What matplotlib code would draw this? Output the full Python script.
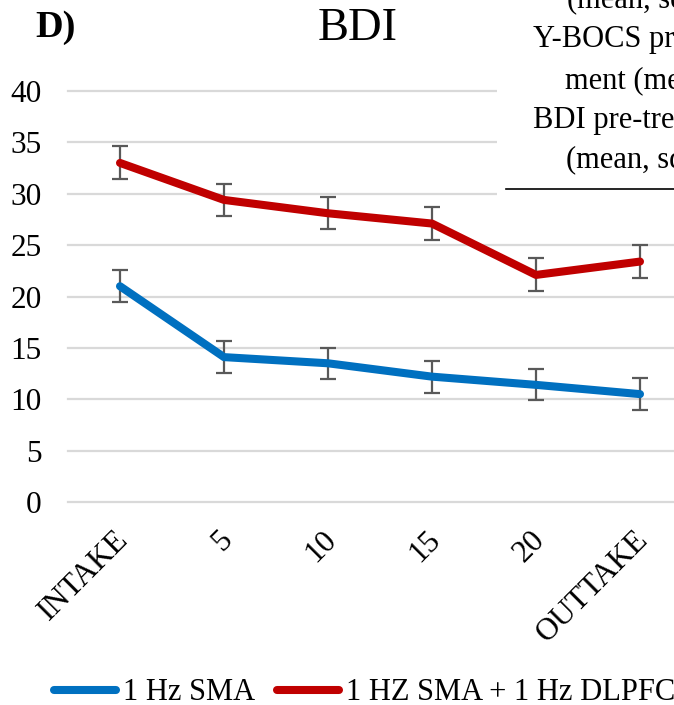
import matplotlib
matplotlib.use("Agg")
import matplotlib.pyplot as plt
import matplotlib.transforms as mtransforms
from matplotlib.patches import Rectangle
from matplotlib.lines import Line2D

# ---- data ----
categories = ["INTAKE", "5", "10", "15", "20", "OUTTAKE"]
sma_mean = [21.0, 14.1, 13.5, 12.2, 11.4, 10.5]
sma_err = [1.55, 1.55, 1.5, 1.55, 1.5, 1.55]
combo_mean = [33.0, 29.4, 28.1, 27.1, 22.1, 23.4]
combo_err = [1.6, 1.55, 1.55, 1.6, 1.6, 1.6]
series_names = ["1 Hz SMA", "1 HZ SMA + 1 Hz DLPFC"]
y_ticks = [0, 5, 10, 15, 20, 25, 30, 35, 40]
table_lines = ["(mean, sd)", "Y-BOCS pre-treat-", "ment (mean, sd)",
               "BDI pre-treatment", "(mean, sd)"]

W, H = 674, 705
plt.rcParams["font.family"] = ["Liberation Serif", "DejaVu Serif"]

fig = plt.figure(figsize=(W / 100, H / 100), dpi=100)
fig.patch.set_facecolor("white")

# axes spans past the right edge of the figure
ax = fig.add_axes([68 / W, 1 - 502 / H, (692 - 68) / W, (502 - 91) / H])
x = list(range(len(categories)))

blue = "#0070C0"
red = "#C00000"
err_col = "#595959"

for mean, err in ((sma_mean, sma_err), (combo_mean, combo_err)):
    ax.errorbar(x, mean, yerr=err, fmt="none", ecolor=err_col,
                elinewidth=1.6, capsize=5.5, capthick=1.6, zorder=3)

l1, = ax.plot(x, sma_mean, color=blue, lw=5.8, solid_capstyle="round",
              solid_joinstyle="round", zorder=4, label=series_names[0])
l2, = ax.plot(x, combo_mean, color=red, lw=5.8, solid_capstyle="round",
              solid_joinstyle="round", zorder=4, label=series_names[1])

ax.set_xlim(-0.5, len(categories) - 0.5)
ax.set_ylim(0, 40)
ax.set_yticks(y_ticks)
ax.set_xticks(x)
ax.set_xticklabels(categories, rotation=45, ha="right", va="center",
                   rotation_mode="anchor", fontsize=22.5)
ax.tick_params(axis="both", length=0, colors="black")
ax.tick_params(axis="y", pad=19, labelsize=22.5)
ax.tick_params(axis="x", pad=22)
shift = mtransforms.ScaledTranslation(4 / 100, -3 / 100, fig.dpi_scale_trans)
for lab in ax.get_xticklabels():
    lab.set_transform(lab.get_transform() + shift)
for s in ax.spines.values():
    s.set_visible(False)
ax.grid(axis="y", color="#D9D9D9", lw=1.6, clip_on=False)
ax.set_axisbelow(True)

# title and panel letter
fig.text(358 / W, 1 - 40 / H, "BDI", ha="center", va="baseline", fontsize=33.5)
fig.text(35 / W, 1 - 37 / H, "D)", ha="left", va="baseline", fontsize=27.5,
         fontweight="bold")

# neighbouring table fragment over the top-right corner
fig.patches.append(Rectangle((497 / W, 1 - 205 / H), 1, 205 / H,
                             transform=fig.transFigure, facecolor="white",
                             edgecolor="none", zorder=5))
tx = [567, 533, 565, 533, 566]
ty = [8, 47, 89, 128, 168]
for t, xx, yy in zip(table_lines, tx, ty):
    fig.text(xx / W, 1 - yy / H, t, ha="left", va="baseline", fontsize=22,
             zorder=6)
fig.lines.append(Line2D([506 / W, 1.0], [1 - 189 / H, 1 - 189 / H],
                        transform=fig.transFigure, color="black", lw=1.2,
                        zorder=6))

fig.legend(handles=[l1, l2], loc="center left",
           bbox_to_anchor=(54 / W, 1 - 693 / H), ncol=2, frameon=False,
           fontsize=22, handlelength=2.03, handletextpad=0.22,
           columnspacing=0.72, borderpad=0, borderaxespad=0)

fig.savefig("out.png", dpi=100)
